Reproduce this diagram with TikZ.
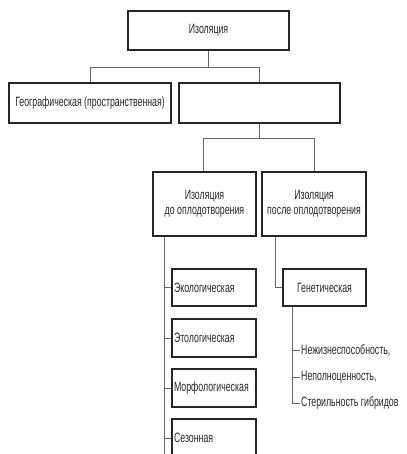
\documentclass[tikz,border=0pt]{standalone}
\usepackage{fontspec}
\setmainfont{Liberation Sans}[FakeStretch=0.65]
\begin{document}
\begin{tikzpicture}[x=1pt,y=-1pt,
  lbl/.style={font=\fontsize{13.5}{15.5}\selectfont,text=black!85,inner sep=0pt},
  box/.style={lbl,draw=black!85,line width=1.1pt,align=center},
  lbox/.style={box,minimum width=84pt,minimum height=38pt,text width=80pt,align=left},
  conn/.style={draw=black!60,line width=0.8pt}]
\useasboundingbox (0,0) rectangle (406,454);
\clip (0,0) rectangle (406,454);
% boxes
\node[box,minimum width=161pt,minimum height=39pt] (top) at (208.5,30.5) {Изоляция};
\node[box,minimum width=162pt,minimum height=40pt] (geo) at (90,103) {Географическая (пространственная)};
\node[box,minimum width=161pt,minimum height=40pt] (emp) at (259.5,103) {};
\node[box,minimum width=103pt,minimum height=64pt] (pre) at (204.5,204) {Изоляция\\до оплодотворения};
\node[box,minimum width=104pt,minimum height=64pt] (post) at (314,204) {Изоляция\\после оплодотворения};
\node[lbox,minimum height=37pt] (eco) at (214,287.5) {Экологическая};
\node[lbox] (eto) at (214,338) {Этологическая};
\node[lbox] (mor) at (214,388) {Морфологическая};
\node[lbox] (ses) at (214,438) {Сезонная};
\node[box,minimum width=83pt,minimum height=37pt] (gen) at (324.5,287.5) {Генетическая};
\node[lbl,anchor=west] (t1) at (301,350) {Нежизнеспособность,};
\node[lbl,anchor=west] (t2) at (301,377) {Неполноценность,};
\node[lbl,anchor=west] (t3) at (301,403) {Стерильность гибридов};
% connectors
\draw[conn] (top.south) -- ++(0,17) coordinate (j1);
\draw[conn] (geo.north) |- (j1) -| ([xshift=-0.5pt]emp.north);
\draw[conn] ([xshift=-0.5pt]emp.south) -- ++(0,15) coordinate (j2);
\draw[conn] ([xshift=-1.5pt]pre.north) |- (j2) -| (post.north);
\draw[conn] ([xshift=-7pt]eco.west |- pre.south) -- ([xshift=-7pt]ses.south west) -- ++(0,10);
\foreach \n in {eco,eto,mor,ses} \draw[conn] ([xshift=-7pt]\n.west) -- (\n.west);
\draw[conn] ([xshift=-7pt]gen.west |- post.south) |- (gen.west);
\draw[conn] ([xshift=10pt]gen.south west) |- ([xshift=-1pt]t3.west);
\foreach \n in {t1,t2} \draw[conn] ([xshift=10pt]gen.south west |- \n.west) -- ([xshift=-1pt]\n.west);
\end{tikzpicture}
\end{document}
